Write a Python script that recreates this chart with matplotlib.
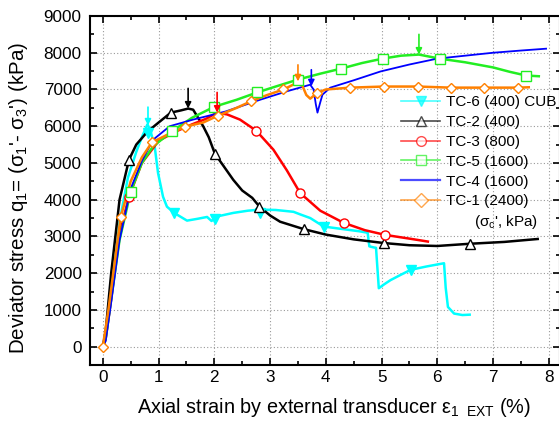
import numpy as np
import matplotlib.pyplot as plt
from matplotlib.ticker import MultipleLocator

plt.rcParams['font.family'] = ['Liberation Sans', 'DejaVu Sans']
plt.rcParams['mathtext.fontset'] = 'custom'
plt.rcParams['mathtext.rm'] = 'Liberation Sans'
plt.rcParams['mathtext.it'] = 'Liberation Sans'

# TC-6 (400) CUB
tc6_x = [0, 0.05, 0.15, 0.3, 0.45, 0.6, 0.7, 0.8, 0.85, 0.93, 0.99, 1.08, 1.15,
         1.28, 1.51, 1.7, 1.87, 1.95, 2.01, 2.1, 2.34, 2.6, 2.82, 3.1, 3.42, 3.54,
         3.72, 3.96, 4.3, 4.6, 4.75, 4.78, 4.86, 4.9, 4.95, 5.05, 5.16, 5.35, 5.52,
         5.8, 6.12, 6.15, 6.19, 6.3, 6.45, 6.58]
tc6_y = [0, 300, 1500, 3400, 4600, 5300, 5700, 6050, 5900, 5450, 4730, 4080, 3810,
         3640, 3430, 3480, 3530, 3420, 3500, 3560, 3640, 3700, 3730, 3720, 3670, 3600,
         3500, 3270, 3200, 3140, 3100, 2730, 2700, 2690, 1590, 1700, 1810, 1960, 2090,
         2180, 2270, 1600, 1080, 900, 860, 870]
tc6_mx = [0.81, 1.28, 2.01, 2.82, 3.96, 5.52]
tc6_my = [5820, 3640, 3480, 3640, 3270, 2090]

# TC-2 (400)
tc2_x = [0, 0.05, 0.15, 0.3, 0.47, 0.6, 0.8, 1.0, 1.22, 1.4, 1.53, 1.62, 1.7,
         1.8, 1.9, 2.01, 2.15, 2.34, 2.5, 2.68, 2.81, 3.0, 3.18, 3.6, 4.0, 4.5,
         5.04, 5.5, 6.0, 6.58, 7.2, 7.8]
tc2_y = [0, 400, 2000, 4000, 5090, 5500, 5850, 6100, 6370, 6430, 6480, 6450, 6250,
         6000, 5700, 5250, 4950, 4540, 4250, 4050, 3810, 3570, 3400, 3200, 3050, 2920,
         2820, 2760, 2740, 2800, 2850, 2930]
tc2_mx = [0.47, 1.22, 2.01, 2.81, 3.6, 5.04, 6.58]
tc2_my = [5090, 6370, 5250, 3810, 3200, 2820, 2800]

# TC-3 (800)
tc3_x = [0, 0.05, 0.15, 0.3, 0.47, 0.7, 1.0, 1.3, 1.6, 1.85, 2.05, 2.23, 2.46,
         2.75, 3.06, 3.3, 3.54, 3.9, 4.32, 4.7, 5.07, 5.5, 5.83]
tc3_y = [0, 200, 1300, 3100, 4080, 5000, 5600, 5850, 6050, 6200, 6370, 6320, 6180,
         5880, 5360, 4800, 4180, 3700, 3370, 3170, 3040, 2940, 2860]
tc3_mx = [0.47, 2.75, 3.54, 4.32, 5.07]
tc3_my = [4080, 5880, 4180, 3370, 3040]

# TC-5 (1600)
tc5_x = [0, 0.05, 0.15, 0.3, 0.5, 0.7, 0.9, 1.24, 1.6, 2.0, 2.4, 2.77, 3.1, 3.5,
         3.9, 4.28, 4.65, 5.02, 5.35, 5.67, 6.04, 6.5, 7.0, 7.3, 7.59, 7.82]
tc5_y = [0, 200, 1300, 2900, 4220, 5000, 5450, 5860, 6230, 6530, 6720, 6920, 7080,
         7270, 7430, 7570, 7720, 7840, 7920, 7950, 7840, 7740, 7600, 7480, 7380, 7360]
tc5_mx = [0.5, 1.24, 2.0, 2.77, 3.5, 4.28, 5.02, 6.04, 7.59]
tc5_my = [4220, 5860, 6530, 6920, 7270, 7570, 7840, 7840, 7380]

# TC-4 (1600)
tc4_x = [0, 0.05, 0.15, 0.3, 0.5, 0.7, 0.9, 1.2, 1.62, 2.2, 2.82, 3.3, 3.72,
         3.78, 3.82, 3.85, 3.9, 3.94, 4.08, 4.5, 4.98, 5.5, 6.0, 6.5, 7.0, 7.5, 7.95]
tc4_y = [0, 150, 1200, 2900, 4300, 5050, 5630, 6000, 6180, 6400, 6720, 6950, 7130,
         7000, 6600, 6370, 6650, 6860, 7050, 7250, 7490, 7680, 7840, 7920, 8000,
         8060, 8110]

# TC-1 (2400)
tc1_x = [0, 0.1, 0.32, 0.5, 0.7, 0.88, 1.2, 1.48, 1.8, 2.07, 2.4, 2.66, 2.95,
         3.24, 3.4, 3.5, 3.58, 3.65, 3.72, 3.8, 3.85, 4.0, 4.44, 5.04, 5.65, 6.24,
         6.84, 7.45, 7.64]
tc1_y = [0, 1000, 3530, 4500, 5150, 5560, 5800, 5990, 6100, 6290, 6500, 6680, 6850,
         7000, 7120, 7220, 7100, 6850, 6750, 6850, 6910, 7000, 7050, 7080, 7080, 7050,
         7050, 7050, 7060]
tc1_mx = [0, 0.32, 0.88, 1.48, 2.07, 2.66, 3.24, 3.85, 4.44, 5.04, 5.65, 6.24,
          6.84, 7.45]
tc1_my = [0, 3530, 5560, 5990, 6290, 6680, 7000, 6910, 7050, 7080, 7080, 7050,
          7050, 7050]

# peak arrows: strain and length of arrow shaft (kPa)
arrow_strain = [0.81, 1.53, 2.05, 3.5, 3.74, 5.67]
arrow_len = [500, 550, 550, 450, 450, 550]
arrow_color = ['#00FFFF', 'black', 'red', '#FF8000', 'blue', '#22EE22']
arrow_curve = ['tc6', 'tc2', 'tc3', 'tc1', 'tc4', 'tc5']

fig = plt.figure(figsize=(5.59, 4.21), dpi=100)
ax = fig.add_axes([90 / 559, 56 / 421, 470 / 559, 349 / 421])

curves = {
    'tc6': (tc6_x, tc6_y, tc6_mx, tc6_my, '#00FFFF', 'v', 'TC-6 (400) CUB', 1.8),
    'tc2': (tc2_x, tc2_y, tc2_mx, tc2_my, 'black', '^', 'TC-2 (400)', 1.8),
    'tc3': (tc3_x, tc3_y, tc3_mx, tc3_my, 'red', 'o', 'TC-3 (800)', 1.8),
    'tc5': (tc5_x, tc5_y, tc5_mx, tc5_my, '#22EE22', 's', 'TC-5 (1600)', 1.8),
    'tc4': (tc4_x, tc4_y, None, None, 'blue', None, 'TC-4 (1600)', 1.3),
    'tc1': (tc1_x, tc1_y, tc1_mx, tc1_my, '#FF8000', 'D', 'TC-1 (2400)', 1.8),
}

handles = []
for key, (x, y, mx, my, col, mk, lab, lw) in curves.items():
    ax.plot(x, y, color=col, lw=lw, zorder=3)
    if mx is not None:
        face = col if mk == 'v' else 'white'
        ms = 5.5 if mk == 'D' else 6.5
        ax.plot(mx, my, ls='none', marker=mk, ms=ms, mfc=face, mec=col,
                mew=1.0, zorder=4)
    # legend handle, slightly faded like the original
    h, = ax.plot([], [], color=col, lw=1.2 if mk else 1.6, alpha=0.7,
                 marker=mk, ms=7 if mk else 0,
                 mfc=col if mk == 'v' else 'white', mec=col, label=lab)
    handles.append(h)

for s, ln, col, c in zip(arrow_strain, arrow_len, arrow_color, arrow_curve):
    cx, cy = curves[c][0], curves[c][1]
    tip = np.interp(s, cx, cy)
    ax.annotate('', xy=(s, tip), xytext=(s, tip + ln),
                arrowprops=dict(arrowstyle='-|>', color=col, lw=1.2,
                                mutation_scale=9, shrinkA=0, shrinkB=0),
                zorder=5)

ax.set_xlim(-0.23, 8.2)
ax.set_ylim(-500, 9000)
ax.xaxis.set_major_locator(MultipleLocator(1))
ax.xaxis.set_minor_locator(MultipleLocator(0.5))
ax.yaxis.set_major_locator(MultipleLocator(1000))
ax.yaxis.set_minor_locator(MultipleLocator(500))
ax.tick_params(which='both', direction='in', top=True, right=True,
               labelsize=12.3, width=1.2)
ax.tick_params(which='major', length=5)
ax.tick_params(which='minor', length=3)
ax.tick_params(axis='y', pad=6)
ax.grid(True, which='major', ls=(0, (1, 2)), color='#999999', lw=0.8)
for sp in ax.spines.values():
    sp.set_linewidth(1.5)

ax.set_xlabel(r"Axial strain by external transducer $\varepsilon_{1\ \ \mathrm{EXT}}$ (%)",
              fontsize=14.3)
ax.xaxis.set_label_coords(0.52, -0.09)
ax.set_ylabel(r"Deviator stress q$_1$= ($\sigma_1$'- $\sigma_3$') (kPa)",
              fontsize=14.8)
ax.yaxis.set_label_coords(-0.128, 0.478)

leg = ax.legend(handles=handles, loc='upper left', bbox_to_anchor=(0.648, 0.79),
                frameon=False, fontsize=11, handlelength=2.6, handletextpad=0.35,
                labelspacing=0.38, borderaxespad=0)
leg.set_zorder(6)
ax.text(0.953, 0.41, r"($\sigma_c$', kPa)", transform=ax.transAxes,
        ha='right', va='center', fontsize=11)

fig.savefig('out.png', dpi=100)
